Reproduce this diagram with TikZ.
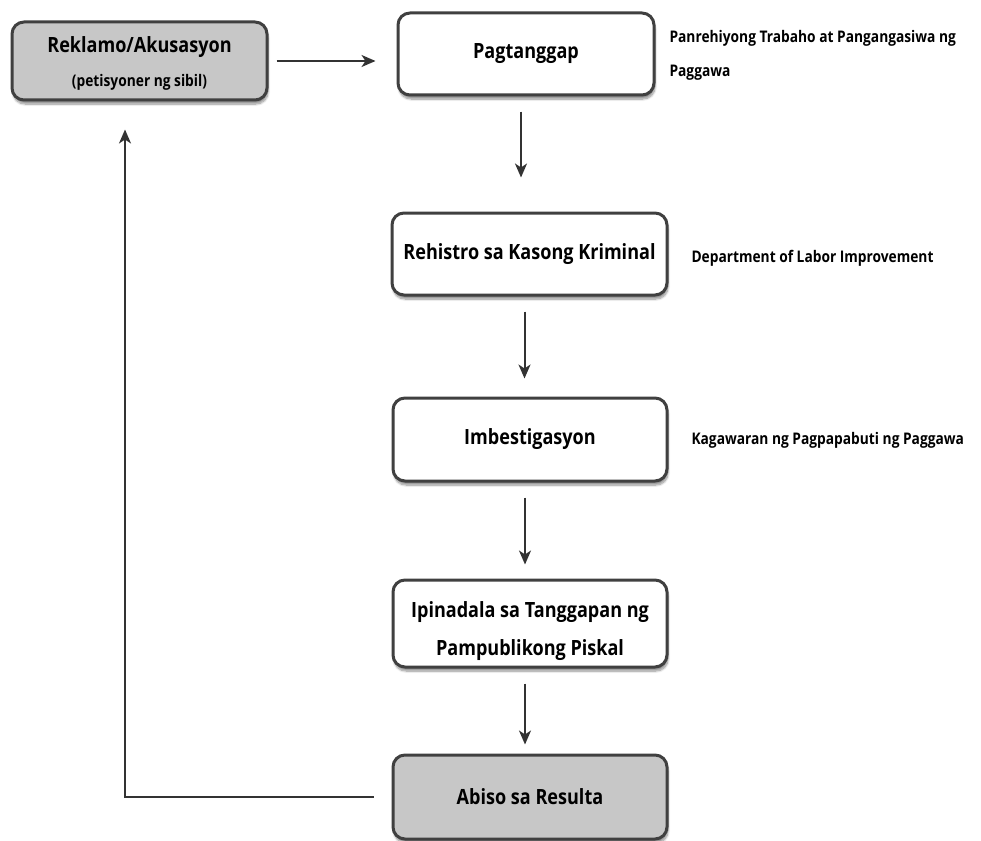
\documentclass[tikz,border=0pt]{standalone}
\usepackage{fontspec}
\setmainfont{Open Sans}[FakeStretch=0.86]
\usetikzlibrary{arrows.meta,shadows.blur}
\tikzset{
  box/.style={draw=black!75, line width=3pt, rounded corners=12pt, fill=white,
    blur shadow={shadow xshift=1pt, shadow yshift=-4pt, shadow blur steps=8, shadow opacity=45},
    font=\fontsize{21}{21}\selectfont\bfseries, inner sep=0pt, align=center},
  greybox/.style={box, fill=black!22},
  note/.style={font=\fontsize{16}{34}\selectfont\bfseries, anchor=west, align=left},
  flow/.style={draw=black!80, line width=2pt, -{Stealth[length=14pt,width=12pt,inset=4pt]}},
}
\begin{document}
\begin{tikzpicture}[x=1pt,y=-1pt]
    \useasboundingbox (0,0) rectangle (981,840);

    \node[greybox, minimum width=255pt, minimum height=78pt] (reklamo) at (139.5,61)
      {\raisebox{-4pt}[\height][\depth]{\begin{tabular}{@{}c@{}}Reklamo/Akusasyon\\[13pt]{\fontsize{16}{16}\selectfont(petisyoner ng sibil)}\end{tabular}}};
    \node[box, minimum width=256pt, minimum height=82pt] (tanggap) at (526,54) {Pagtanggap};
    \node[box, minimum width=275pt, minimum height=82pt] (rehistro) at (529.5,254) {Rehistro sa Kasong Kriminal};
    \node[box, minimum width=274pt, minimum height=83pt] (imbest) at (530,439.5) {Imbestigasyon};
    \node[box, minimum width=274pt, minimum height=87pt] (piskal) at (530,623.5)
      {\raisebox{-8pt}[\height][\depth]{\begin{tabular}{@{}c@{}}Ipinadala sa Tanggapan ng\\[16pt]Pampublikong Piskal\end{tabular}}};
    \node[greybox, minimum width=274pt, minimum height=84pt] (abiso) at (530,797) {Abiso sa Resulta};

    \node[note] (n1) at (666,55) {Panrehiyong Trabaho at Pangangasiwa ng\\Paggawa};
    \node[note] (n2) at (688,258) {Department of Labor Improvement};
    \node[note] (n3) at (688,440) {Kagawaran ng Pagpapabuti ng Paggawa};

    \draw[flow] ([xshift=8pt]reklamo.east) -- ([xshift=-21pt]tanggap.west |- reklamo.east);
    \foreach \a/\b/\s in {tanggap/rehistro/34, rehistro/imbest/18, imbest/piskal/14, piskal/abiso/9} {
      \draw[flow, shorten <=15pt, shorten >=\s pt] ([xshift=-5pt]\a.south) -- ([xshift=-5pt]\a.south |- \b.north);
    }
    \draw[flow] ([xshift=-18pt]abiso.west) -| ([xshift=-14.5pt,yshift=-28pt]reklamo.south);
\end{tikzpicture}
\end{document}
